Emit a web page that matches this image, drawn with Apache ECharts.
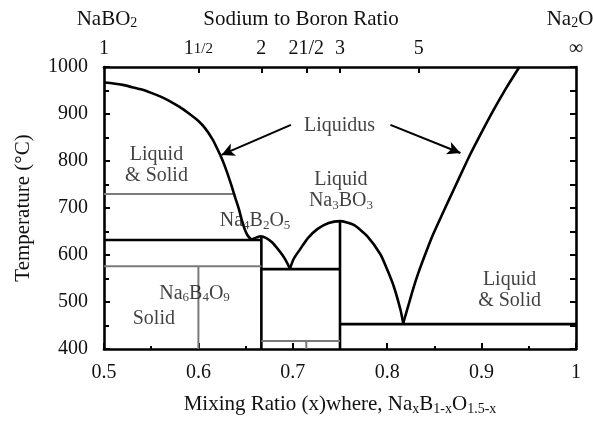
<!DOCTYPE html>
<html><head><meta charset="utf-8">
<script src="https://cdn.jsdelivr.net/npm/echarts@6/dist/echarts.min.js"></script>
<style>html,body{margin:0;padding:0;background:#fff}#c{width:593px;height:421px}</style>
</head><body><div id="c"></div><script>
const FONT = 'Liberation Serif, Times New Roman, serif';
const TXT = '#111';

// ---- data ----
const xRange = [0.5, 1];
const yRange = [400, 1000];
const ratioValues = [1, 1.5, 2, 2.5, 3, 5, Infinity];
const ratioLabels = ['1', '1{s|1/2}', '2', '21/2', '3', '5', '∞'];

const leftLiquidus = [[0.5,967],[0.51,965],[0.52,962],[0.53,957],[0.54,952],[0.55,945],[0.56,937],[0.57,927],[0.58,915],[0.59,901],[0.6,885],[0.607,870],[0.615,846],[0.62,826],[0.625,804],[0.63,778],[0.635,748],[0.639,722],[0.643,697],[0.646,674],[0.649,655],[0.652,642],[0.656,633]];
const na4b2o5Curve = [[0.656,633],[0.661,637],[0.666,640],[0.672,636],[0.678,627],[0.684,613],[0.689,600],[0.693,587],[0.697,571]];
const na3bo3Curve = [[0.697,571],[0.701,592],[0.708,613],[0.716,636],[0.726,655],[0.738,668],[0.750,672],[0.7646,664],[0.7788,640],[0.7929,601],[0.80,569],[0.807,533],[0.814,484],[0.817,455]];
const rightLiquidus = [[0.817,455],[0.820,476],[0.8235,500],[0.8275,528],[0.833,562],[0.84,600],[0.848,641],[0.857,681],[0.866,720],[0.876,763],[0.887,810],[0.899,857],[0.912,906],[0.926,955],[0.94,1000]];

const blackLines = [
  [[0.5,632],[0.6667,632]],
  [[0.6667,400],[0.6667,640]],
  [[0.6667,570],[0.75,570]],
  [[0.75,400],[0.75,672]],
  [[0.75,453],[1,453]]
];
const grayLines = [
  [[0.5,730],[0.639,730]],
  [[0.5,576],[0.6667,576]],
  [[0.6,400],[0.6,576]],
  [[0.6667,417],[0.75,417]],
  [[0.7143,400],[0.7143,417]]
];

const annotations = [
  {text:'Liquidus', at:[0.7495,874]},
  {text:'Liquid\n& Solid', at:[0.5556,792]},
  {text:'Na{b|6}B{b|4}O{b|9}', at:[0.5959,518]},
  {text:'Solid', at:[0.5528,464]},
  {text:'Na{b|4}B{b|2}O{b|5}', at:[0.660,672]},
  {text:'Liquid\nNa{b|3}BO{b|3}', at:[0.751,737]},
  {text:'Liquid\n& Solid', at:[0.9296,524]}
];
const arrows = [
  [[0.698,877],[0.6245,813]],
  [[0.8034,877],[0.8776,817]]
];

// ---- chart ----
const ratioPos = ratioValues.map(r => r === Infinity ? 1 : r / (1 + r));
const subRich = {
  b: {fontSize: 13, fontFamily: FONT, color: TXT, verticalAlign: 'bottom', lineHeight: 14}
};

function segSeries(seg, color, width) {
  return {type:'line', data: seg, symbol:'none', silent:true, clip:true,
    lineStyle:{color, width}, z: 3};
}

const series = [];
[leftLiquidus, na4b2o5Curve, na3bo3Curve, rightLiquidus].forEach(d => {
  series.push({type:'line', data:d, symbol:'none', smooth:0.2, silent:true,
    lineStyle:{color:'#000', width:2.6}, z:4});
});
blackLines.forEach(s => series.push(segSeries(s, '#000', 2.6)));
grayLines.forEach(s => series.push(segSeries(s, '#7a7a7a', 2)));
series.push({
  type:'scatter', symbolSize:0, silent:true, z:6,
  data: annotations.map(a => ({value:a.at, label:{formatter:a.text}})),
  label:{show:true, position:'inside', fontSize:20, fontFamily:FONT, color:TXT, lineHeight:21,
    textBorderWidth:0, rich: subRich},
  markLine:{
    silent:true, animation:false,
    symbol:['none','arrow'], symbolSize:[10,13],
    label:{show:false},
    lineStyle:{color:'#000', width:2, type:'solid'},
    data: arrows.map(a => [{coord:a[0]}, {coord:a[1]}])
  }
});

const chart = echarts.init(document.getElementById('c'), null, {renderer:'canvas'});
chart.setOption({
  animation:false,
  backgroundColor:'#fff',
  grid:{left:104, right:17, top:67, bottom:72},
  textStyle:{fontFamily:FONT},
  xAxis:[{
    type:'value', position:'bottom', min:xRange[0], max:xRange[1], interval:0.1,
    axisLine:{show:true, lineStyle:{color:'#000', width:2.6}},
    axisTick:{show:true, inside:true, length:6, lineStyle:{color:'#000', width:2}},
    minorTick:{show:true, splitNumber:2, length:3, lineStyle:{color:'#000', width:2}},
    splitLine:{show:false},
    axisLabel:{margin:14, fontSize:20, fontFamily:FONT, color:TXT,
      formatter: v => (Math.abs(v-1)<1e-9 ? '1' : v.toFixed(1))},
    name:'Mixing Ratio (x)where, Na{b|x}B{b|1-x}O{b|1.5-x}',
    nameLocation:'middle', nameGap:44,
    nameTextStyle:{fontSize:21, fontFamily:FONT, color:TXT, lineHeight:23,
      rich:{b:{fontSize:14, fontFamily:FONT, color:TXT, verticalAlign:'bottom', lineHeight:15}}}
  },{
    type:'value', position:'top', min:xRange[0], max:xRange[1],
    axisLine:{show:true, lineStyle:{color:'#000', width:2.6}},
    axisTick:{show:true, inside:true, length:6, lineStyle:{color:'#000', width:2},
      customValues: ratioPos.slice(1, -1)},
    splitLine:{show:false},
    axisLabel:{margin:8, fontSize:20, fontFamily:FONT, color:TXT,
      customValues: ratioPos,
      formatter: v => {
        let best = 0, bd = 1e9;
        ratioPos.forEach((p,i) => { const d = Math.abs(p - v); if (d < bd) { bd = d; best = i; } });
        return ratioLabels[best];
      },
      rich:{s:{fontSize:15, fontFamily:FONT, color:TXT}}}
  }],
  yAxis:[{
    type:'value', position:'left', min:yRange[0], max:yRange[1], interval:100,
    axisLine:{show:true, lineStyle:{color:'#000', width:2.6}},
    axisTick:{show:true, inside:true, length:6, lineStyle:{color:'#000', width:2}},
    minorTick:{show:true, splitNumber:2, length:5, lineStyle:{color:'#000', width:2}},
    splitLine:{show:false},
    axisLabel:{margin:16, fontSize:20, fontFamily:FONT, color:TXT, formatter: v => String(v)},
    name:'Temperature (°C)', nameLocation:'middle', nameGap:70,
    nameTextStyle:{fontSize:21, fontFamily:FONT, color:TXT}
  },{
    type:'value', position:'right', min:yRange[0], max:yRange[1], interval:50,
    axisLine:{show:true, lineStyle:{color:'#000', width:2.6}},
    axisTick:{show:true, inside:true, length:6, lineStyle:{color:'#000', width:2}},
    splitLine:{show:false},
    axisLabel:{show:false}
  }],
  graphic:[
    {type:'text', x:107, y:19, style:{text:'NaBO{b|2}', align:'center', verticalAlign:'middle',
      fontSize:21, fontFamily:FONT, fill:TXT, lineHeight:23,
      rich:{b:{fontSize:14, fontFamily:FONT, fill:TXT, verticalAlign:'bottom', lineHeight:15}}}},
    {type:'text', x:301, y:19, style:{text:'Sodium to Boron Ratio', align:'center', verticalAlign:'middle',
      fontSize:21, fontFamily:FONT, fill:TXT}},
    {type:'text', x:570, y:19, style:{text:'Na{b|2}O', align:'center', verticalAlign:'middle',
      fontSize:21, fontFamily:FONT, fill:TXT, lineHeight:23,
      rich:{b:{fontSize:14, fontFamily:FONT, fill:TXT, verticalAlign:'bottom', lineHeight:15}}}}
  ],
  series
});
</script></body></html>
